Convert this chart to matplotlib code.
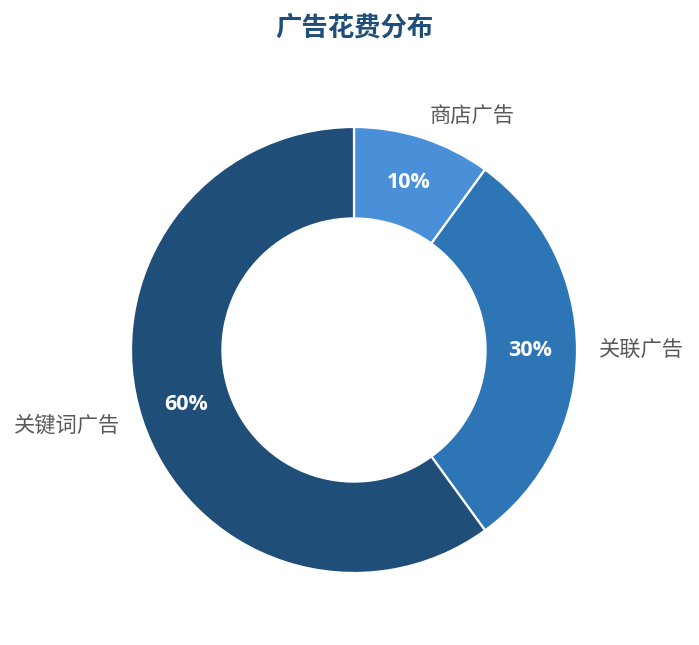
import matplotlib.pyplot as plt

plt.rcParams['font.family'] = ['Noto Sans CJK SC', 'DejaVu Sans']

labels = ['商店广告', '关联广告', '关键词广告']
values = [10, 30, 60]
colors = ['#4a90d9', '#2e75b6', '#1f4e79']

W, H = 699, 645
fig = plt.figure(figsize=(W / 100, H / 100), dpi=100)

# 饼图中心 (354, 350)，外半径 223 像素
R = 223
cx, cy = 354, H - 350
ax = fig.add_axes([(cx - R) / W, (cy - R) / H, 2 * R / W, 2 * R / H])

wedges, texts, autotexts = ax.pie(
    values, labels=labels, colors=colors, startangle=90, counterclock=False,
    autopct='%d%%', pctdistance=0.79, labeldistance=1.1,
    wedgeprops=dict(width=0.41, edgecolor='white', linewidth=1.6),
    textprops=dict(fontsize=15.3, color='#595959'))
for t in autotexts:
    t.set_color('white')
    t.set_fontsize(15.5)
    t.set_fontweight('bold')
    t.set_family(['Open Sans', 'DejaVu Sans'])

ax.set_xlim(-1, 1)
ax.set_ylim(-1, 1)
ax.axis('off')

fig.text(354 / W, 1 - 29 / H, '广告花费分布', ha='center', va='center',
         fontsize=19, fontweight='bold', color='#1f4e79')

fig.savefig('out.png', dpi=100)
